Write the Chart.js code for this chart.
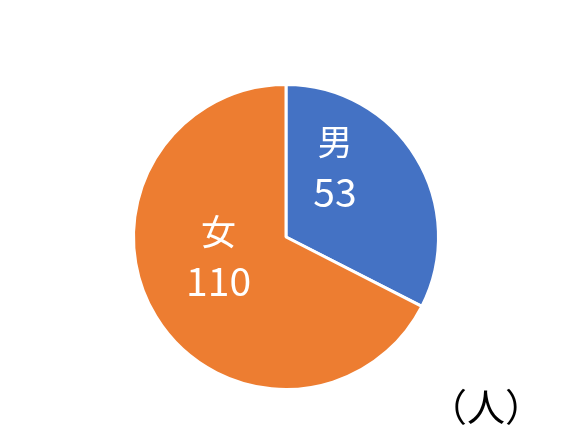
<!DOCTYPE html>
<html>
<head>
<meta charset="utf-8">
<script src="https://cdn.jsdelivr.net/npm/chart.js@4/dist/chart.umd.min.js"></script>
<style>
  html, body { margin: 0; padding: 0; background: #fff; }
  #wrap { position: relative; width: 575px; height: 431px; }
  #unit {
    position: absolute; left: 429px; top: 377px;
    font: 38px "Noto Sans CJK JP", sans-serif; color: #000;
  }
</style>
</head>
<body>
<div id="wrap">
  <canvas id="pie" width="575" height="431"></canvas>
  <div id="unit">（人）</div>
</div>
<script>
// ── Data ────────────────────────────────────────────────────────────────
const categories = ["男", "女"];
const counts = [53, 110];
const colors = ["#4472C4", "#ED7D31"];

// label placement: polar angle (deg, clockwise from 12 o'clock) + radius fraction
const labelAngles = [35, 254];
const labelRadii = [0.56, 0.46];

// ── Inline labels plugin ────────────────────────────────────────────────
const sliceLabels = {
  id: "sliceLabels",
  afterDatasetsDraw(chart) {
    const meta = chart.getDatasetMeta(0);
    const ctx = chart.ctx;
    ctx.save();
    ctx.fillStyle = "#fff";
    ctx.textAlign = "center";
    ctx.textBaseline = "middle";
    meta.data.forEach((arc, i) => {
      const a = (labelAngles[i] * Math.PI) / 180;
      const r = arc.outerRadius * labelRadii[i];
      const x = arc.x + r * Math.sin(a);
      const y = arc.y - r * Math.cos(a);
      ctx.font = '35px "Noto Sans CJK JP", sans-serif';
      ctx.fillText(categories[i], x, y - 25);
      ctx.font = '39px "Noto Sans CJK JP", sans-serif';
      ctx.fillText(String(counts[i]), x, y + 25);
    });
    ctx.restore();
  },
};

new Chart(document.getElementById("pie"), {
  type: "pie",
  data: {
    labels: categories,
    datasets: [{
      data: counts,
      backgroundColor: colors,
      borderColor: "#fff",
      borderWidth: 3,
    }],
  },
  options: {
    responsive: false,
    animation: false,
    devicePixelRatio: 1,
    layout: { padding: { top: 83, bottom: 40, left: 0, right: 3 } },
    plugins: { legend: { display: false }, tooltip: { enabled: false } },
  },
  plugins: [sliceLabels],
});
</script>
</body>
</html>
